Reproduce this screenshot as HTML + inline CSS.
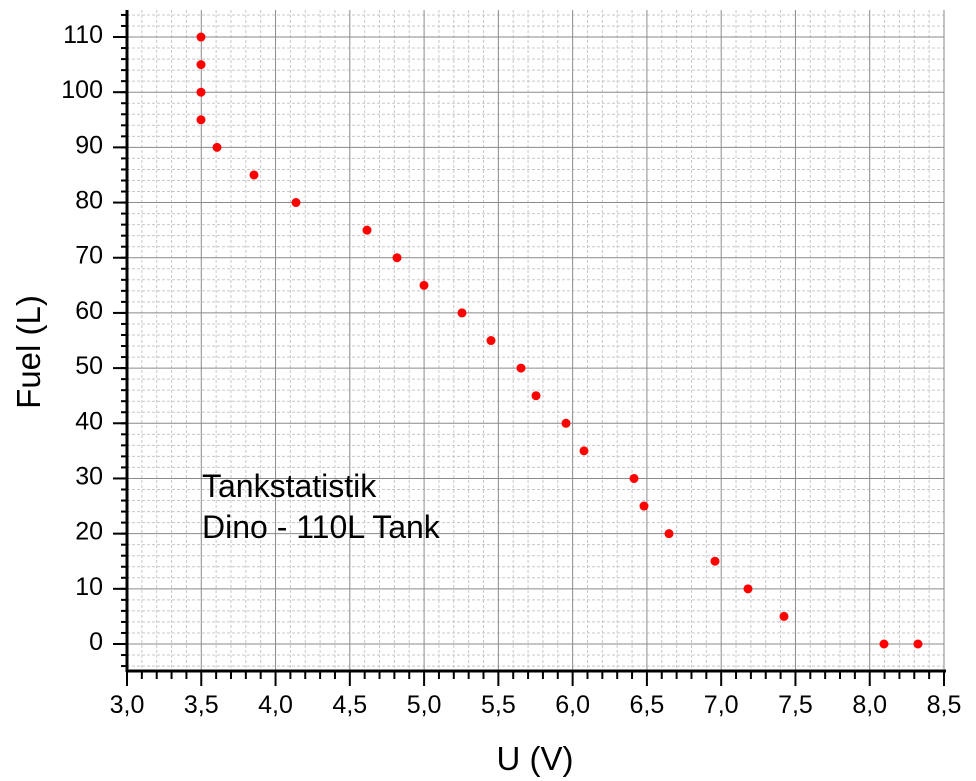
<!DOCTYPE html>
<html><head><meta charset="utf-8"><style>body{margin:0;background:#fff}svg{display:block}</style></head>
<body>
<svg id="s" width="976" height="781" xmlns="http://www.w3.org/2000/svg" font-family="Liberation Sans, sans-serif">
<g id="g"></g>
</svg>
<script>
(function(){
const g=document.getElementById('g');let h='';
const X=v=>127+(v-3)*148.545, Y=v=>644-v*5.518;
const T=10,B=671,L=127,R=944;
for(let i=1;i<55;i++){if(i%5==0)continue;const x=X(3+i*0.1);h+=`<line x1="${x}" y1="${T}" x2="${x}" y2="${B}" stroke="#c8c8c8" stroke-dasharray="3,2"/>`;}
for(let v=-4;v<=114;v+=2){if(v%10==0)continue;const y=Y(v);h+=`<line x1="${L}" y1="${y}" x2="${R}" y2="${y}" stroke="#c8c8c8" stroke-dasharray="3,2"/>`;}
for(let i=1;i<=11;i++){const x=X(3+i*0.5);h+=`<line x1="${x}" y1="${T}" x2="${x}" y2="${B}" stroke="#8a8a8a"/>`;}
for(let v=0;v<=110;v+=10){const y=Y(v);h+=`<line x1="${L}" y1="${y}" x2="${R}" y2="${y}" stroke="#8a8a8a"/>`;}
h+=`<line x1="${L}" y1="${T}" x2="${L}" y2="${B+1}" stroke="#000" stroke-width="3"/>`;
h+=`<line x1="${L-1}" y1="${B}" x2="${R+2}" y2="${B}" stroke="#000" stroke-width="3"/>`;
for(let i=0;i<=55;i++){const x=X(3+i*0.1);const m=i%5==0;h+=`<line x1="${x}" y1="${B}" x2="${x}" y2="${B+(m?15:8)}" stroke="#000" stroke-width="2"/>`;
 if(m)h+=`<text x="${x}" y="${B+42}" font-size="25" text-anchor="middle">${(3+i*0.1).toFixed(1).replace('.',',')}</text>`;}
for(let v=-4;v<=114;v+=2){const y=Y(v);h+=`<line x1="${L-6}" y1="${y}" x2="${L}" y2="${y}" stroke="#000" stroke-width="2"/>`;}
for(let v=0;v<=110;v+=10){const y=Y(v);h+=`<line x1="${L-14}" y1="${y}" x2="${L}" y2="${y}" stroke="#000" stroke-width="2"/>`;
 h+=`<text x="${L-24}" y="${y+6}" font-size="25" text-anchor="end">${v}</text>`;}
const px=[201,201,201,201,217,254,296,367,397,424,462,491,521,536,566,584,634,644,669,715,748,784,884,918];
const fy=[110,105,100,95,90,85,80,75,70,65,60,55,50,45,40,35,30,25,20,15,10,5,0,0];
px.forEach((x,i)=>{h+=`<circle cx="${x}" cy="${Y(fy[i])}" r="4.5" fill="#f00"/>`;});
h+=`<text x="535" y="770" font-size="33" text-anchor="middle">U (V)</text>`;
h+=`<text transform="translate(40,352) rotate(-90)" font-size="33" text-anchor="middle">Fuel (L)</text>`;
h+=`<text x="202" y="497" font-size="32">Tankstatistik</text><text x="202" y="538" font-size="32">Dino - 110L Tank</text>`;
g.innerHTML=h;
})();
</script>
</body></html>
